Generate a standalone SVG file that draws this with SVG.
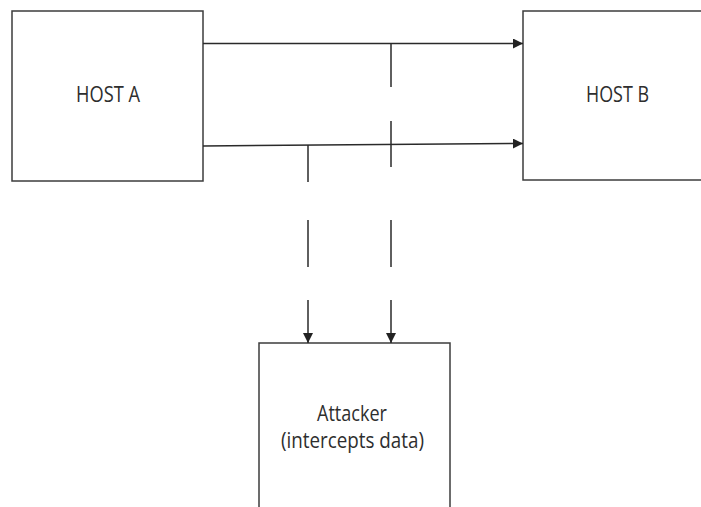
<svg xmlns="http://www.w3.org/2000/svg" width="701" height="507" viewBox="0 0 701 507">
<defs>
<marker id="arr" viewBox="0 0 10 10" refX="10" refY="5" markerWidth="10" markerHeight="10" markerUnits="userSpaceOnUse" orient="auto">
<path d="M0,0 L10,5 L0,10 Z" fill="#222"/>
</marker>
</defs>
<style>
.box{fill:#fff;stroke:#3c3c3c;stroke-width:1.5}
.lbl{font-family:"Open Sans","Liberation Sans",sans-serif;font-size:21px;fill:#2e2e2e}
.ln{stroke:#2a2a2a;stroke-width:1.5;fill:none}
</style>
<rect width="701" height="507" fill="#fff"/>
<g id="hostA">
<rect class="box" x="12" y="11" width="191" height="170"/>
<text class="lbl" x="76" y="102" textLength="64" lengthAdjust="spacingAndGlyphs">HOST A</text>
</g>
<g id="hostB">
<rect class="box" x="523" y="11" width="190" height="169"/>
<text class="lbl" x="586" y="102" textLength="63" lengthAdjust="spacingAndGlyphs">HOST B</text>
</g>
<g id="attacker">
<rect class="box" x="259" y="343" width="191" height="180"/>
<text class="lbl" x="317" y="421" textLength="70" lengthAdjust="spacingAndGlyphs">Attacker</text>
<text class="lbl" x="281" y="448" textLength="143" lengthAdjust="spacingAndGlyphs">(intercepts data)</text>
</g>
<g id="connectors">
<line class="ln" x1="203" y1="43.5" x2="523" y2="43.5" marker-end="url(#arr)"/>
<line class="ln" x1="203" y1="146" x2="523" y2="143.5" marker-end="url(#arr)"/>
<line class="ln" x1="391" y1="44" x2="391" y2="87"/>
<line class="ln" x1="391" y1="121" x2="391" y2="167"/>
<line class="ln" x1="391" y1="220" x2="391" y2="267"/>
<line class="ln" x1="391" y1="300" x2="391" y2="343" marker-end="url(#arr)"/>
<line class="ln" x1="308" y1="145" x2="308" y2="182"/>
<line class="ln" x1="308" y1="220" x2="308" y2="267"/>
<line class="ln" x1="308" y1="300" x2="308" y2="343" marker-end="url(#arr)"/>
</g>
</svg>
